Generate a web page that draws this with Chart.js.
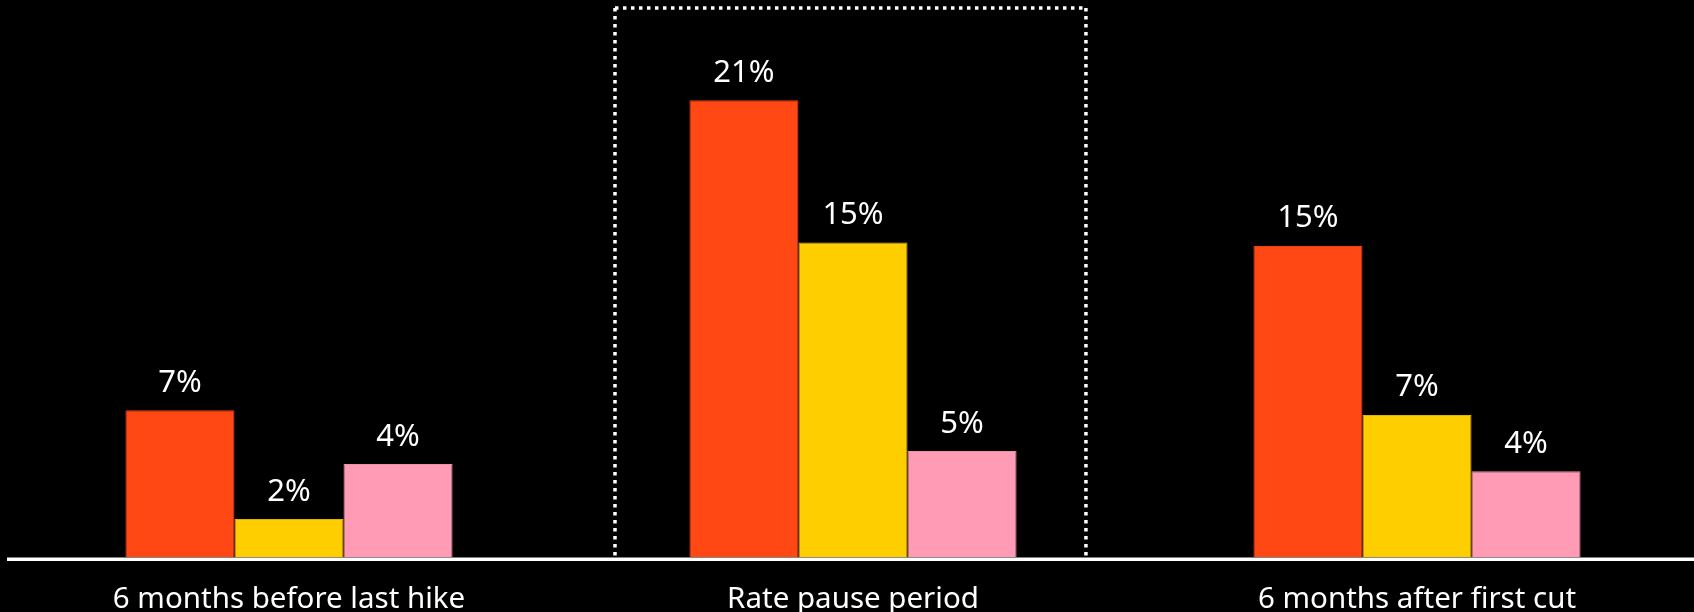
<!DOCTYPE html>
<html>
<head>
<meta charset="utf-8">
<script src="https://cdn.jsdelivr.net/npm/chart.js@4"></script>
<style>
  html, body { margin: 0; padding: 0; background: #000; overflow: hidden; }
  #wrap { width: 1700px; height: 612px; }
</style>
</head>
<body>
<div id="wrap"><canvas id="c" width="1700" height="612"></canvas></div>
<script>
// ---- data ----
const categories = ['6 months before last hike', 'Rate pause period', '6 months after first cut'];
const seriesA = [6.89, 21.38, 14.57];   // orange-red
const seriesB = [1.80, 14.73, 6.67];    // yellow
const seriesC = [4.37, 4.98, 4.03];     // pink

const FONT = '"Noto Sans", "DejaVu Sans", sans-serif';

const labelPlugin = {
  id: 'valueLabels',
  afterDatasetsDraw(chart) {
    const ctx = chart.ctx;
    ctx.save();
    ctx.fillStyle = '#ffffff';
    ctx.font = '31px ' + FONT;
    ctx.textAlign = 'center';
    ctx.textBaseline = 'alphabetic';
    chart.data.datasets.forEach((ds, di) => {
      const meta = chart.getDatasetMeta(di);
      meta.data.forEach((bar, i) => {
        const v = Math.round(ds.data[i]);
        ctx.fillText(v + '%', bar.x, bar.y - 18.5);
      });
    });
    ctx.restore();
  }
};

const framePlugin = {
  id: 'frameAndBase',
  afterDatasetsDraw(chart) {
    const ctx = chart.ctx;
    const area = chart.chartArea;
    const xs = chart.scales.x;
    ctx.save();
    ctx.fillStyle = '#ffffff';
    ctx.fillRect(area.left, area.bottom, chart.width - area.left, 3.5);
    const left = xs.getPixelForValue(0.578);
    const right = xs.getPixelForValue(1.413);
    ctx.strokeStyle = '#ffffff';
    ctx.lineWidth = 3.5;
    ctx.setLineDash([3.5, 4.5]);
    ctx.lineCap = 'butt';
    ctx.beginPath();
    ctx.moveTo(left, area.top);
    ctx.lineTo(right, area.top);
    ctx.stroke();
    ctx.beginPath();
    ctx.moveTo(left, area.top);
    ctx.lineTo(left, area.bottom);
    ctx.stroke();
    ctx.beginPath();
    ctx.moveTo(right, area.top);
    ctx.lineTo(right, area.bottom);
    ctx.stroke();
    ctx.restore();
  }
};

new Chart(document.getElementById('c'), {
  type: 'bar',
  data: {
    labels: categories,
    datasets: [
      { data: seriesA, backgroundColor: '#FF4814', borderColor: '#E8400E', borderWidth: 1 },
      { data: seriesB, backgroundColor: '#FFCE00', borderColor: '#E6B200', borderWidth: 1 },
      { data: seriesC, backgroundColor: '#FF9BB4', borderColor: '#EE90A6', borderWidth: 1 }
    ]
  },
  options: {
    responsive: false,
    animation: false,
    devicePixelRatio: 1,
    layout: { padding: { top: 8, left: 7, right: 1, bottom: 0 } },
    plugins: { legend: { display: false }, tooltip: { enabled: false } },
    datasets: { bar: { categoryPercentage: 0.58, barPercentage: 1 } },
    scales: {
      x: {
        grid: { display: false, drawTicks: false },
        border: { display: false },
        afterFit: (s) => { s.height = 54.5; },
        ticks: {
          color: '#ffffff',
          padding: 27.5,
          font: { family: FONT, size: 29.5, lineHeight: 1 }
        }
      },
      y: {
        display: false,
        min: 0,
        max: 25.7
      }
    }
  },
  plugins: [labelPlugin, framePlugin]
});
</script>
</body>
</html>
